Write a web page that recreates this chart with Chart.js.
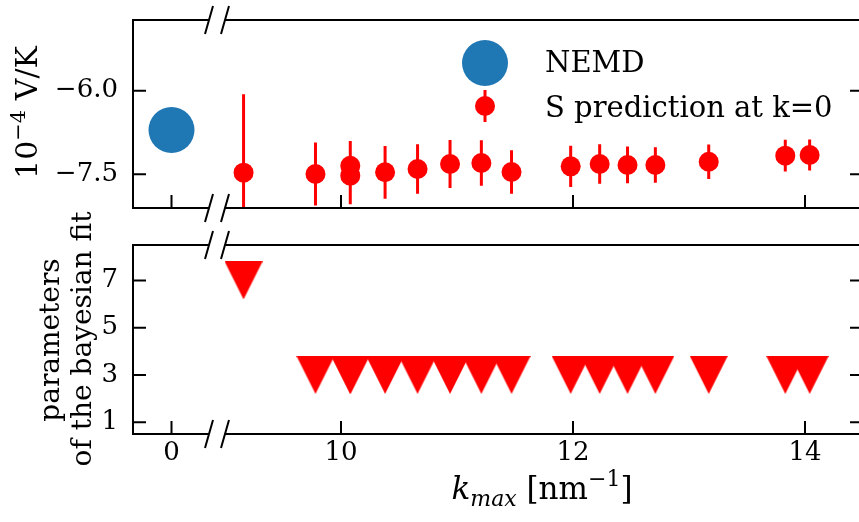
<!DOCTYPE html>
<html><head><meta charset="utf-8">
<script src="https://cdn.jsdelivr.net/npm/chart.js@4/dist/chart.umd.min.js"></script>
<style>
html,body{margin:0;padding:0;background:#fff;overflow:hidden;width:859px;height:522px;position:relative;}
.wrap{position:absolute;left:0;top:0;width:870px;height:522px;}
canvas{display:block;}
</style></head><body>
<div class="wrap"><canvas id="top" width="870" height="522" style="width:870px;height:522px"></canvas></div>
<div class="wrap"><canvas id="bot" width="870" height="522" style="width:870px;height:522px"></canvas></div>
<script>
// ---------------- data ----------------
const kmax    = [9.16, 9.78, 10.08, 10.08, 10.38, 10.66, 10.94, 11.21, 11.47, 11.98, 12.23, 12.47, 12.71, 13.17, 13.83, 14.04];
const sPred   = [-7.471, -7.495, -7.346, -7.525, -7.464, -7.405, -7.315, -7.297, -7.459, -7.357, -7.315, -7.333, -7.333, -7.274, -7.166, -7.154];
const sErr    = [1.406, 0.565, 0.443, 0.513, 0.473, 0.446, 0.43, 0.41, 0.39, 0.37, 0.353, 0.33, 0.318, 0.31, 0.284, 0.278];
const nParams = [7, 3, 3, 3, 3, 3, 3, 3, 3, 3, 3, 3, 3, 3, 3, 3];
const nemdK   = [0];
const nemdS   = [-6.705];
const xTickValues = [0, 10, 12, 14];
const xTickLabels = ['0', '10', '12', '14'];
const topYTicks = [-6.0, -7.5];
const botYTicks = [1, 3, 5, 7];

// ------------- broken x axis mapping -------------
const X_MIN = 8.2069, X_MAX = 14.5, ZERO_POS = 8.5388, LEFT_SCALE = 0.6466, RIGHT_START = 9.0;
function mapX(k) { return k < 5 ? ZERO_POS + k * LEFT_SCALE : k; }

Chart.defaults.font.family = "'DejaVu Serif', serif";
Chart.defaults.color = '#000';
const SERIF = "'DejaVu Serif', serif";
const RED = '#ff0000', BLUE = '#1f77b4';

function fmtTop(v) { return (v < 0 ? '\u2212' : '') + Math.abs(v).toFixed(1); }

function triCanvas(w, h, color) {
  const c = document.createElement('canvas'); c.width = w; c.height = h;
  const g = c.getContext('2d'); g.fillStyle = color;
  g.beginPath(); g.moveTo(0, 0); g.lineTo(w, 0); g.lineTo(w / 2, h); g.closePath(); g.fill();
  return c;
}

function makeFrame(yTicks) {
  return {
    id: 'frame',
    afterDatasetsDraw(chart) {
      const ctx = chart.ctx, ca = chart.chartArea, xs = chart.scales.x, ys = chart.scales.y;
      const L = ca.left, R = ca.right, T = ca.top, B = ca.bottom;
      const gL = xs.getPixelForValue(mapX(0.5)), gR = xs.getPixelForValue(RIGHT_START);
      ctx.save();
      ctx.strokeStyle = '#000'; ctx.lineWidth = 2; ctx.lineCap = 'butt';
      ctx.beginPath();
      [T, B].forEach(y => { ctx.moveTo(L - 1, y); ctx.lineTo(gL, y); ctx.moveTo(gR, y); ctx.lineTo(R + 1, y); });
      ctx.moveTo(L, T); ctx.lineTo(L, B);
      ctx.moveTo(R, T); ctx.lineTo(R, B);
      yTicks.forEach(v => { const p = ys.getPixelForValue(v); ctx.moveTo(L, p); ctx.lineTo(L + 13, p); ctx.moveTo(R, p); ctx.lineTo(R - 13, p); });
      xTickValues.forEach(v => { const p = xs.getPixelForValue(mapX(v)); ctx.moveTo(p, B); ctx.lineTo(p, B - 13); });
      [gL, gR].forEach(x => [T, B].forEach(y => { ctx.moveTo(x - 4, y + 14); ctx.lineTo(x + 4, y - 14); }));
      ctx.stroke();
      ctx.restore();
    }
  };
}

const errorBars = {
  id: 'errorBars',
  beforeDatasetsDraw(chart) {
    const ctx = chart.ctx, ca = chart.chartArea, xs = chart.scales.x, ys = chart.scales.y;
    ctx.save();
    ctx.beginPath(); ctx.rect(ca.left, ca.top, ca.right - ca.left, ca.bottom - ca.top); ctx.clip();
    ctx.strokeStyle = RED; ctx.lineWidth = 3;
    ctx.beginPath();
    kmax.forEach((k, i) => {
      const x = xs.getPixelForValue(mapX(k));
      ctx.moveTo(x, ys.getPixelForValue(sPred[i] + sErr[i]));
      ctx.lineTo(x, ys.getPixelForValue(sPred[i] - sErr[i]));
    });
    ctx.stroke();
    ctx.restore();
  }
};

function drawRuns(ctx, runs, cx, baseline) {
  let total = 0;
  runs.forEach(r => { ctx.font = r.f; r.w = ctx.measureText(r.t).width; total += r.w; });
  let x = cx - total / 2;
  ctx.textAlign = 'left'; ctx.textBaseline = 'alphabetic';
  runs.forEach(r => { ctx.font = r.f; ctx.fillText(r.t, x, baseline + (r.dy || 0)); x += r.w; });
}

const topDecor = {
  id: 'topDecor',
  afterDraw(chart) {
    const ctx = chart.ctx;
    ctx.save();
    ctx.fillStyle = BLUE; ctx.beginPath(); ctx.arc(485, 63, 23, 0, Math.PI * 2); ctx.fill();
    ctx.strokeStyle = RED; ctx.lineWidth = 3; ctx.beginPath(); ctx.moveTo(485, 90); ctx.lineTo(485, 122); ctx.stroke();
    ctx.fillStyle = RED; ctx.beginPath(); ctx.arc(485, 106, 10, 0, Math.PI * 2); ctx.fill();
    ctx.fillStyle = '#000'; ctx.font = '29px ' + SERIF; ctx.textAlign = 'left'; ctx.textBaseline = 'alphabetic';
    ctx.fillText(chart.data.datasets[0].label, 545, 72);
    ctx.fillText(chart.data.datasets[1].label, 545, 117);
    ctx.translate(37, 112.5); ctx.rotate(-Math.PI / 2);
    drawRuns(ctx, [
      { t: '10', f: '30px ' + SERIF },
      { t: '\u22124', f: '21px ' + SERIF, dy: -12 },
      { t: ' V/K', f: '30px ' + SERIF }
    ], 0, 0);
    ctx.restore();
  }
};

const botDecor = {
  id: 'botDecor',
  afterDraw(chart) {
    const ctx = chart.ctx;
    ctx.save();
    ctx.fillStyle = '#000';
    drawRuns(ctx, [
      { t: 'k', f: 'italic 31px ' + SERIF },
      { t: 'max', f: 'italic 22px ' + SERIF, dy: 7 },
      { t: ' [nm', f: '31px ' + SERIF },
      { t: '\u22121', f: '22px ' + SERIF, dy: -13 },
      { t: ']', f: '31px ' + SERIF }
    ], 542, 499);
    ctx.save();
    ctx.translate(59, 340); ctx.rotate(-Math.PI / 2);
    ctx.font = '28px ' + SERIF; ctx.textAlign = 'center'; ctx.textBaseline = 'alphabetic';
    ctx.fillText('parameters', 0, 0);
    ctx.restore();
    ctx.translate(91, 339); ctx.rotate(-Math.PI / 2);
    ctx.font = '28px ' + SERIF; ctx.textAlign = 'center'; ctx.textBaseline = 'alphabetic';
    ctx.fillText('of the bayesian fit', 0, 0);
    ctx.restore();
  }
};

const common = { responsive: false, maintainAspectRatio: false, animation: false, events: [], devicePixelRatio: 1 };
const hiddenGrid = { display: true, drawOnChartArea: false, drawTicks: true, tickLength: 15, color: 'rgba(0,0,0,0)' };

new Chart(document.getElementById('top'), {
  type: 'scatter',
  data: { datasets: [
    { label: 'NEMD', data: nemdK.map((k, i) => ({ x: mapX(k), y: nemdS[i] })),
      pointRadius: 23, pointHoverRadius: 23, backgroundColor: BLUE, borderWidth: 0 },
    { label: 'S prediction at k=0', data: kmax.map((k, i) => ({ x: mapX(k), y: sPred[i] })),
      pointRadius: 10, pointHoverRadius: 10, backgroundColor: RED, borderWidth: 0 }
  ]},
  options: Object.assign({}, common, {
    layout: { autoPadding: false, padding: { left: 0, right: 7, top: 20, bottom: 522 - 208 } },
    plugins: { legend: { display: false }, tooltip: { enabled: false } },
    scales: {
      x: { type: 'linear', display: false, min: X_MIN, max: X_MAX },
      y: { type: 'linear', min: -8.105, max: -4.731,
        grid: hiddenGrid, border: { display: false },
        ticks: { padding: 0, font: { size: 26 }, autoSkip: false, callback: v => fmtTop(v) },
        afterBuildTicks: s => { s.ticks = topYTicks.map(v => ({ value: v })); },
        afterFit: s => { s.width = 133; } }
    }
  }),
  plugins: [errorBars, makeFrame(topYTicks), topDecor]
});

new Chart(document.getElementById('bot'), {
  type: 'scatter',
  data: { datasets: [
    { label: 'parameters', data: kmax.map((k, i) => ({ x: mapX(k), y: nParams[i] })),
      pointStyle: triCanvas(38, 38, RED), pointRadius: 19, pointHoverRadius: 19, backgroundColor: RED, borderWidth: 0 }
  ]},
  options: Object.assign({}, common, {
    layout: { autoPadding: false, padding: { left: 0, right: 7, top: 245, bottom: 0 } },
    plugins: { legend: { display: false }, tooltip: { enabled: false } },
    scales: {
      x: { type: 'linear', min: X_MIN, max: X_MAX,
        grid: { display: false, drawTicks: false }, border: { display: false },
        ticks: { padding: 4, font: { size: 26 }, autoSkip: false, maxRotation: 0, callback: (v, i) => xTickLabels[i] },
        afterBuildTicks: s => { s.ticks = xTickValues.map(v => ({ value: mapX(v) })); },
        afterFit: s => { s.height = 522 - 434; } },
      y: { type: 'linear', min: 0.5, max: 8.5,
        grid: hiddenGrid, border: { display: false },
        ticks: { padding: 0, font: { size: 26 }, autoSkip: false, callback: v => String(v) },
        afterBuildTicks: s => { s.ticks = botYTicks.map(v => ({ value: v })); },
        afterFit: s => { s.width = 133; } }
    }
  }),
  plugins: [makeFrame(botYTicks), botDecor]
});
</script>
</body></html>
